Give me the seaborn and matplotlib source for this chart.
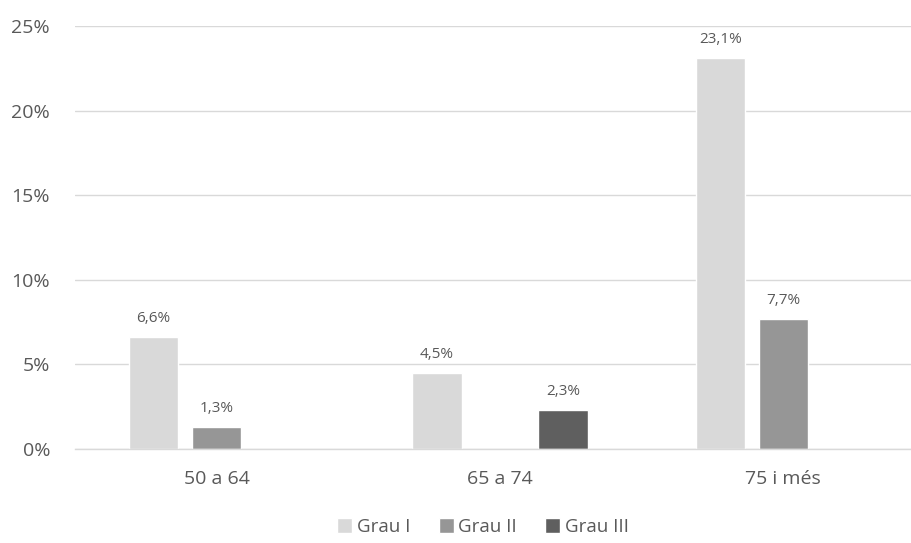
import matplotlib
matplotlib.use("Agg")
import matplotlib.pyplot as plt
import seaborn as sns
import pandas as pd
import numpy as np

categories = ["50 a 64", "65 a 74", "75 i més"]
series = ["Grau I", "Grau II", "Grau III"]
grau_1 = [6.6, 4.5, 23.1]
grau_2 = [1.3, np.nan, 7.7]
grau_3 = [np.nan, 2.3, np.nan]
yticks = [0, 5, 10, 15, 20, 25]
colors = ["#D9D9D9", "#969696", "#5F5F5F"]

rows = []
for s, vals in zip(series, [grau_1, grau_2, grau_3]):
    for c, v in zip(categories, vals):
        rows.append({"cat": c, "serie": s, "val": v})
df = pd.DataFrame(rows)

sns.set_theme(style="white")
plt.rcParams['font.family'] = ['Open Sans', 'DejaVu Sans']
text_col = "#595959"

fig = plt.figure(figsize=(9.12, 5.43), dpi=100)
ax = fig.add_axes([75/912, 1-449/543, 850/912, (449-26)/543])

sns.barplot(data=df, x="cat", y="val", hue="serie", order=categories,
            hue_order=series, palette=colors, width=0.667, gap=0.22,
            ax=ax, saturation=1, legend=True, errorbar=None)

for cont in ax.containers:
    labels = []
    for b in cont:
        h = b.get_height()
        labels.append("" if (h is None or np.isnan(h) or h == 0) else f"{h:.1f}%".replace(".", ","))
    ax.bar_label(cont, labels=labels, padding=8, fontsize=11, color=text_col)

ax.set_ylim(0, 25)
ax.set_yticks(yticks)
ax.set_yticklabels([f"{t}%" for t in yticks])
ax.set_xlim(-0.5, 2.5)
ax.yaxis.grid(True, color="#D9D9D9", linewidth=1)
ax.set_axisbelow(True)
for sp in ["top", "right", "left"]:
    ax.spines[sp].set_visible(False)
ax.spines["bottom"].set_color("#D9D9D9")
ax.spines["bottom"].set_linewidth(1)
ax.tick_params(axis="y", length=0, pad=18, labelsize=14, labelcolor=text_col)
ax.tick_params(axis="x", length=0, pad=15, labelsize=14, labelcolor=text_col)
ax.set_xlabel("")
ax.set_ylabel("")

leg = ax.get_legend()
handles = leg.legend_handles
leg.remove()
fig.legend(handles, series, loc="center", bbox_to_anchor=(483/912, 1-527/543),
           ncol=3, frameon=False, fontsize=13.5, handlelength=0.8, handleheight=0.8,
           handletextpad=0.25, columnspacing=1.5, labelcolor=text_col)

fig.savefig("out.png", dpi=100)
